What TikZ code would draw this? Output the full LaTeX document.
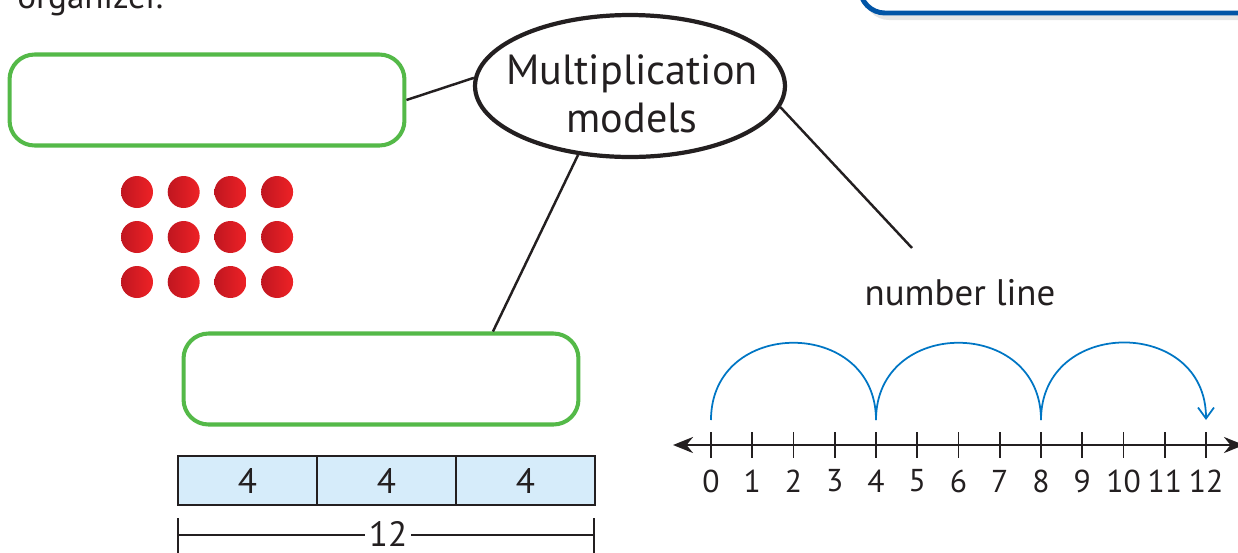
\documentclass[tikz,border=0pt]{standalone}
\usepackage{fontspec}
\setmainfont{PT Sans}
\usetikzlibrary{arrows.meta,positioning,shapes.geometric,calc}
\definecolor{MMgreen}{RGB}{84,185,72}
\definecolor{MMblue}{RGB}{0,84,166}
\definecolor{MMjump}{RGB}{0,118,196}
\definecolor{MMbar}{RGB}{214,236,250}
\definecolor{MMink}{RGB}{35,31,32}
\definecolor{MMdotdark}{RGB}{192,22,32}
\definecolor{MMdotlight}{RGB}{238,34,38}
\tikzset{
  answer/.style={rounded corners=0.5cm,draw=MMgreen,line width=2.3pt,
                 minimum width=7.9cm,minimum height=1.82cm},
  infobox/.style={rounded corners=0.5cm,draw=MMblue,line width=2.8pt,fill=white},
  hub/.style={ellipse,draw=MMink,line width=2.4pt,fill=white,
              minimum width=6.2cm,minimum height=2.84cm,inner sep=0pt},
  hubtext/.style={text=MMink,align=center,inner sep=0pt,font=\fontsize{24}{27}\selectfont},
  link/.style={draw=MMink,line width=1.4pt},
  cell/.style={draw=MMink,line width=1.6pt,fill=MMbar,text=MMink,
               minimum width=2.78cm,minimum height=0.98cm,font=\fontsize{20}{22}\selectfont},
  nlaxis/.style={draw=MMink,line width=1.6pt,
                 {Stealth[length=4mm,width=3.2mm]}-{Stealth[length=4mm,width=3.2mm]}},
  nltick/.style={draw=MMink,line width=1.1pt},
  numlbl/.style={text=MMink,font=\fontsize{18}{20}\selectfont,inner sep=0pt},
  jump/.style={draw=MMjump,line width=1pt},
  dot/.style={left color=MMdotdark,right color=MMdotlight}
}
\begin{document}
\begin{tikzpicture}[x=0.02cm,y=-0.02cm]
  \useasboundingbox (0,0) rectangle (1238,552);
  \clip (0,0) rectangle (1238,552);

  \node[anchor=base west,text=MMink,font=\fontsize{20}{22}\selectfont,inner sep=0pt] (lead) at (17,8) {organizer.};
  \fill[black,opacity=0.1,rounded corners=0.5cm] (864,-120) rectangle (1304,20);
  \draw[infobox] (860,-120) rectangle (1300,13);

  \node[answer] (bxone) at (207,100) {};
  \node[answer] (bxtwo) at (381,379) {};
  \node[hub] (hub) at (630,86) {};
  \node[hubtext] (hubtxt) at (632,94) {Multiplication\\models};

  \foreach \r in {0,1,2}
    \foreach \c in {0,...,3}
      \shade[dot] ({137+46.7*\c},{192+45*\r}) circle[radius=0.32cm];

  \coordinate (nlend) at (912,248);
  \draw[link] (bxone.east) -- (hub.177);
  \draw[link] (hub.233) -- (bxtwo.23);
  \draw[link] (hub.-8) -- (nlend);
  \node[text=MMink,font=\fontsize{21}{23}\selectfont] (nltext) at (960,293) {number line};

  \foreach \n/\x in {cella/247.5,cellb/386.5,cellc/525.5}
    \node[cell] (\n) at (\x,480.5) {4};
  \coordinate (spanl) at (178,535);
  \coordinate (spanr) at (594,535);
  \node[text=MMink,font=\fontsize{20}{22}\selectfont,inner sep=2pt] (total) at (388,534) {12};
  \draw[link] (spanl) -- (total.west |- spanl);
  \draw[link] (total.east |- spanr) -- (spanr);
  \draw[link] ($(spanl)+(0,-17)$) -- ($(spanl)+(0,20)$);
  \draw[link] ($(spanr)+(0,-17)$) -- ($(spanr)+(0,20)$);

  \coordinate (nlw) at (673,445);
  \coordinate (nle) at (1244,445);
  \draw[nlaxis] (nlw) -- (nle);
  \foreach \i in {0,...,12} {
    \coordinate (t\i) at ({711+41.25*\i},445);
    \draw[nltick] ($(t\i)+(0,-13)$) -- ($(t\i)+(0,13)$);
    \node[numlbl] (n\i) at ($(t\i)+(0,36)$) {\i};
  }
  \foreach \a/\b in {0/4,4/8}
    \draw[jump] ($(t\a)+(0,-25)$) .. controls +(0,-103) and +(0,-103) .. ($(t\b)+(0,-25)$);
  \draw[jump,-{Straight Barb[length=2.2mm,width=3.2mm]}] ($(t8)+(0,-25)$) .. controls +(0,-103) and +(0,-103) .. ($(t12)+(0,-25)$);
\end{tikzpicture}
\end{document}
